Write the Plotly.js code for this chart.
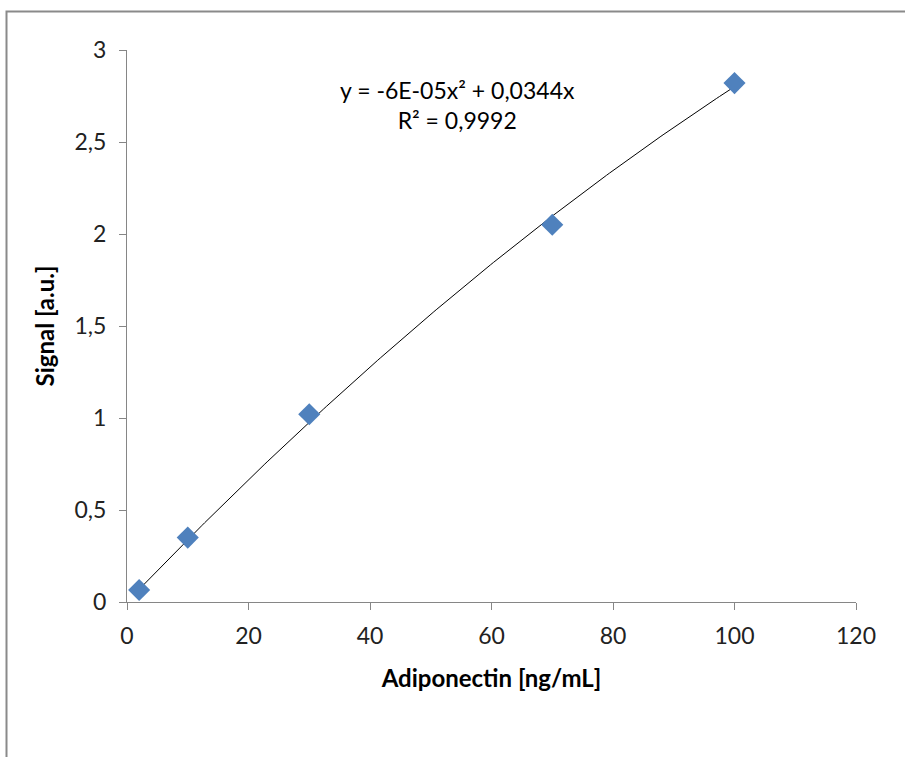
<!DOCTYPE html>
<html>
<head>
<meta charset="utf-8">
<script src="https://cdn.plot.ly/plotly-3.0.1.min.js"></script>
<style>html,body{margin:0;padding:0;background:#fff;}#chart{width:905px;height:757px;}</style>
</head>
<body>
<div id="chart"></div>
<script>
// Data
const concentration = [2, 10, 30, 70, 100];
const signal = [0.065, 0.35, 1.02, 2.05, 2.82];
const xTicks = [0, 20, 40, 60, 80, 100, 120];
const yTicks = [0, 0.5, 1, 1.5, 2, 2.5, 3];
const equationText = 'y = -6E-05x² + 0,0344x<br>R² = 0,9992';

// Least-squares fit y = a x^2 + b x (through origin), as Excel's polynomial trendline
let s2=0,s3=0,s4=0,sxy=0,sx2y=0;
for (let i=0;i<concentration.length;i++){
  const x=concentration[i], y=signal[i];
  s2+=x*x; s3+=x*x*x; s4+=x*x*x*x; sxy+=x*y; sx2y+=x*x*y;
}
const det = s4*s2 - s3*s3;
const a = (sx2y*s2 - s3*sxy)/det;
const b = (s4*sxy - s3*sx2y)/det;
const xMin = Math.min(...concentration), xMax = Math.max(...concentration);
const fitX = [], fitY = [];
for (let k=0;k<=200;k++){ const x = xMin + (xMax-xMin)*k/200; fitX.push(x); fitY.push(a*x*x + b*x); }

const font = 'Lato, "Open Sans", "DejaVu Sans", sans-serif';
const axisColor = '#868686';

const traces = [
  {x: fitX, y: fitY, mode: 'lines', line: {color: '#000000', width: 1}, hoverinfo: 'skip', showlegend: false},
  {x: concentration, y: signal, mode: 'markers', marker: {symbol: 'diamond', size: 17, color: '#4F81BD'}, showlegend: false}
];

const pl = 127, pr = 856, pt = 50, pb = 602;
const layout = {
  width: 905, height: 757,
  margin: {l: pl, r: 905-pr, t: pt, b: 757-pb, pad: 0},
  paper_bgcolor: '#ffffff', plot_bgcolor: '#ffffff',
  separators: ', ',
  font: {family: font, size: 23, color: '#000000'},
  xaxis: {
    range: [0, 120], tickvals: xTicks, ticktext: xTicks.map(String),
    showgrid: false, zeroline: false, showline: true, linecolor: axisColor, linewidth: 1,
    ticks: 'outside', ticklen: 7, tickcolor: axisColor, tickfont: {size: 23, family: font, color: '#222'},
    ticklabelstandoff: 6,
    title: {text: '<b>Adiponectin [ng/mL]</b>', font: {size: 24, family: font}, standoff: 22}
  },
  yaxis: {
    range: [0, 3], tickvals: yTicks, ticktext: yTicks.map(v => String(v).replace('.', ',')),
    showgrid: false, zeroline: false, showline: true, linecolor: axisColor, linewidth: 1,
    ticks: 'outside', ticklen: 7, tickcolor: axisColor, tickfont: {size: 23, family: font, color: '#222'},
    ticklabelstandoff: 8,
    title: {text: '<b>Signal [a.u.]</b>', font: {size: 24, family: font}, standoff: 13}
  },
  annotations: [{
    xref: 'paper', yref: 'paper', x: (457-pl)/(pr-pl), y: (602-105)/(pb-pt),
    xanchor: 'center', yanchor: 'middle',
    text: equationText, showarrow: false, align: 'center',
    font: {size: 23, family: font, color: '#000000'}
  }],
  shapes: [{
    type: 'rect', xref: 'paper', yref: 'paper',
    x0: (6.5-pl)/(pr-pl), x1: 2, y0: -2, y1: (602-11.5)/(pb-pt),
    line: {color: '#8a8a8a', width: 2}, fillcolor: 'rgba(0,0,0,0)', layer: 'below'
  }]
};

Plotly.newPlot('chart', traces, layout, {displayModeBar: false, staticPlot: true});
</script>
</body>
</html>
